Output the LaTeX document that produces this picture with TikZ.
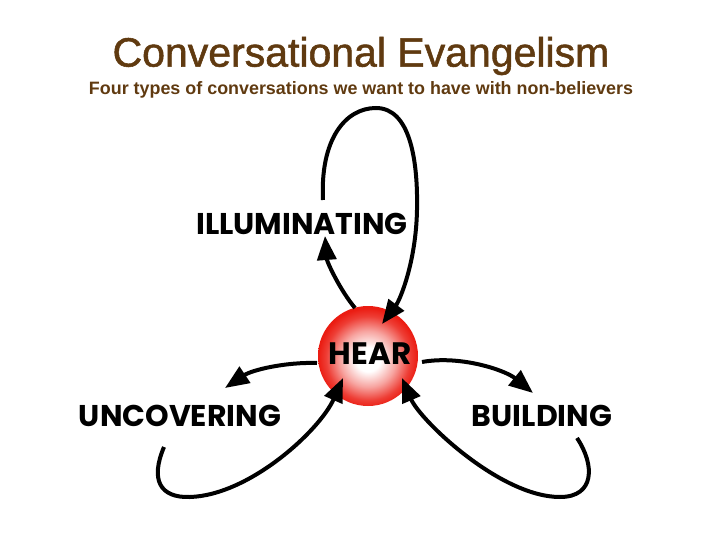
\documentclass[tikz,border=0pt]{standalone}
\usepackage{fontspec}
\setmainfont{Liberation Sans}
\newfontfamily\labfont{Poppins}
\newfontfamily\titlefont{Liberation Sans}[FakeBold=1.3]
\usetikzlibrary{arrows.meta}
\definecolor{titlebrown}{RGB}{96,58,16}
\definecolor{hearred}{RGB}{235,28,18}
\pgfdeclareradialshading{hearball}{\pgfpoint{0bp}{-2bp}}{%
  color(0bp)=(white); color(6bp)=(white); color(14bp)=(hearred!40!white);
  color(21bp)=(hearred!85!white); color(25bp)=(hearred); color(50bp)=(hearred)}
\tikzset{
  loopline/.style={line width=4pt, black},
  tipped/.style={loopline, -{Triangle[length=24pt,width=19pt]}},
  lab/.style={font=\labfont\bfseries\fontsize{30}{32}\selectfont, inner sep=0pt},
}
\begin{document}
\begin{tikzpicture}[x=1pt,y=-1pt]
\useasboundingbox (0,0) rectangle (720,540);
\node[font=\titlefont\fontsize{41}{44}\selectfont, text=titlebrown] (title) at (361,56) {Conversational Evangelism};
\node[font=\bfseries\fontsize{17.9}{20}\selectfont, text=titlebrown] (sub) at (361,90) {Four types of conversations we want to have with non-believers};
\shade[shading=hearball] (368,356) circle (50);
\node[circle, minimum size=100pt, inner sep=0pt] (hear) at (368,356) {};
\node[lab, font=\labfont\bfseries\fontsize{31}{32}\selectfont] (htext) at (370,354) {HEAR};
\node[lab] (ill) at (302,224) {ILLUMINATING};
\node[lab] (unc) at (180,416) {UNCOVERING};
\node[lab] (bui) at (542,416) {BUILDING};
% illuminating loop
\coordinate (ia) at (355,308);
\coordinate (ib) at (325,236);
\coordinate (ic) at (323,200);
\coordinate (id) at (382,324);
\draw[tipped] (ia) .. controls (340,290) and (327,262) .. (ib);
\draw[tipped] (ic) .. controls (320,140) and (345,108) .. (376,108) .. controls (410,108) and (418,160) .. (417,210) .. controls (416,262) and (400,300) .. (id);
% uncovering loop
\coordinate (ua) at (317,363);
\coordinate (ub) at (225,388);
\coordinate (uc) at (164,447);
\coordinate (ud) at (343,378);
\draw[tipped] (ua) .. controls (285,362) and (252,370) .. (ub);
\draw[tipped] (uc) .. controls (150,480) and (160,498) .. (190,497) .. controls (250,495) and (320,430) .. (ud);
% building loop
\coordinate (ba) at (422,362);
\coordinate (bb) at (533,393);
\coordinate (bc) at (577,438);
\coordinate (bd) at (402,378);
\draw[tipped] (ba) .. controls (460,355) and (505,370) .. (bb);
\draw[tipped] (bc) .. controls (595,465) and (595,497) .. (560,497) .. controls (500,497) and (420,420) .. (bd);
\end{tikzpicture}
\end{document}
